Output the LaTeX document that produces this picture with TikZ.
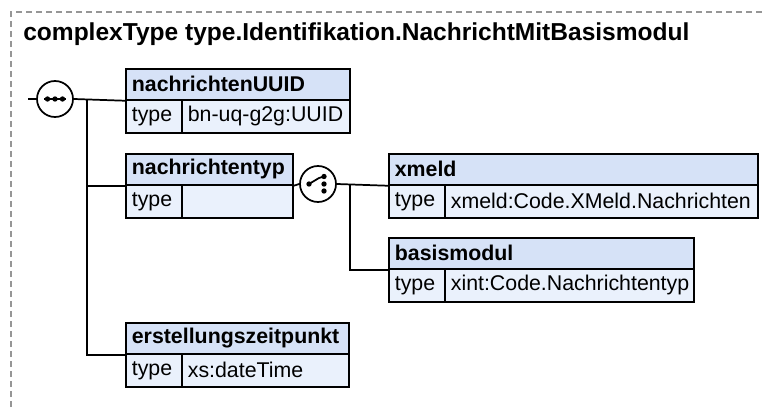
\documentclass[tikz,border=0pt]{standalone}
\usepackage{fontspec}
\setmainfont{Liberation Sans}
\usepackage{xcolor}
\usetikzlibrary{positioning, calc}
\definecolor{cHead}{RGB}{214,226,247}
\definecolor{cBody}{RGB}{234,241,252}
\definecolor{cFrame}{RGB}{150,150,150}
\tikzset{
	hdrcell/.style ={rectangle, draw=black, fill=cHead, anchor=north west, minimum height=23.25pt, inner xsep=4.5pt, inner ysep=0pt, align=left, font=\fontsize{16}{19}\selectfont\bfseries},
	bodycell/.style={rectangle, draw=black, fill=cBody, anchor=north west, minimum height=24.75pt, inner xsep=4.5pt, inner ysep=0pt, align=left, font=\fontsize{16}{19}\selectfont},
	compositor/.style={circle, draw=black, fill=white, minimum size=27pt, inner sep=0pt},
	wire/.style={line width=1.3pt},
	% little marks inside the compositors
	icondot/.style={fill=black},
}

\begin{document}
\begin{tikzpicture}[x=0.75pt, y=-0.75pt, line width=1.3pt]
	\useasboundingbox (0,0) rectangle (764,407);
	\draw[cFrame, line width=0.8pt, dash pattern=on 4.5pt off 3pt] (11,407) -- (11,12) -- (764,12);
	\node[anchor=base west, font=\fontsize{18.4}{22}\selectfont\bfseries] (title) at (18,40) {complexType type.Identifikation.NachrichtMitBasismodul};
	% element boxes
	\foreach \nm/\x/\y/\w/\ttl/\tp in {uuid/125/68/224/nachrichtenUUID/bn-uq-g2g:UUID, typ/125/153/167/nachrichtentyp/{}, xmeld/388/153/369/xmeld/xmeld:Code.XMeld.Nachrichten, basis/388/237/305/basismodul/xint:Code.Nachrichtentyp, zeit/125/322/223/erstellungszeitpunkt/xs:dateTime} {
		\pgfmathsetmacro{\hw}{(\w-12)*0.75}
		\pgfmathsetmacro{\vw}{(\w-68)*0.75}
		\node[bodycell, text width=33pt] (\nm-t) at (\x,\y+31) {type};
		\node[bodycell, text width=\vw pt] (\nm-v) at (\x+56,\y+31) {\tp};
		\node[hdrcell, text width=\hw pt] (\nm-h) at (\x,\y) {\ttl};
	}
	\node[compositor] (seq) at (55,99) {};
	\node[compositor] (cho) at (318,184) {};
	\coordinate (seqin) at (28,99);
	\coordinate (trunk) at (87,99);
	\coordinate (branch) at (350,184);
	\draw[wire] (seqin) -- (seq.west);
	\draw[wire] (seq.east) -- (uuid-h.south west);
	\draw[wire] (trunk) |- (typ-h.south west);
	\draw[wire] (trunk) |- (zeit-h.south west);
	\draw[wire] (typ-h.south east) -- (cho.west);
	\draw[wire] (cho.east) -- (xmeld-h.south west);
	\draw[wire] (branch) |- (basis-h.south west);
	\begin{scope}[shift={(seq.center)}]
		\draw[wire] (-11,0) -- (11,0);
		\foreach \dx in {-7.5,0,7.5}
			\fill[icondot] (\dx,0) circle (2pt);
	\end{scope}
	\begin{scope}[shift={(cho.center)}]
		\draw[wire] (-9,0) -- (1,-6) -- (6,-7.5);
		\foreach \p in {(-9,0),(6,-7.5),(6,0),(6,7)}
			\fill[icondot] \p circle (2pt);
	\end{scope}
\end{tikzpicture}
\end{document}
